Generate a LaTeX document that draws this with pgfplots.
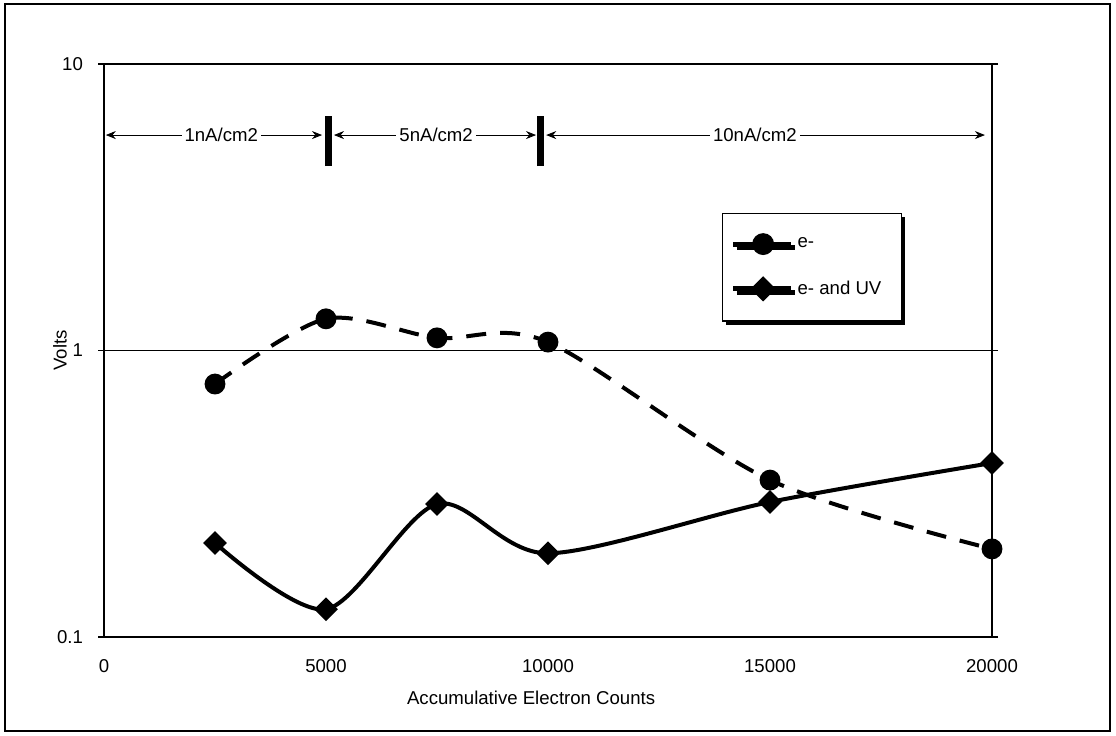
\documentclass[border=0pt]{standalone}
\usepackage{pgfplots}
\pgfplotsset{compat=1.18}
\usepackage{fontspec}
\setmainfont{Liberation Sans}
\usetikzlibrary{arrows.meta,shadows}

\begin{document}
\begin{tikzpicture}[font=\fontsize{9.3}{11}\selectfont]
\begin{axis}[
  name=ax,
  scale only axis,
  width=444pt, height=286.5pt,
  xmin=0, xmax=20000,
  ymode=log, ymin=0.1, ymax=10,
  scaled x ticks=false,
  xtick={0,5000,10000,15000,20000},
  xticklabels={0,5000,10000,15000,20000},
  ytick={0.1,1,10},
  yticklabels={0.1,1,10},
  yminorticks=false,
  ymajorgrids,
  major grid style={line width=0.5pt, black},
  axis line style={line width=0.6pt},
  x tick style={draw=none},
  y tick style={line width=0.6pt, black},
  tick align=outside, major tick length=3pt,
  xticklabel style={anchor=center, yshift=-11.5pt},
  yticklabel style={anchor=east, xshift=-4pt},
  xlabel={Accumulative Electron Counts},
  ylabel={Volts},
  xlabel style={at={(axis description cs:0.481,-0.1065)}, anchor=center},
  ylabel style={at={(axis description cs:-0.0495,0.5)}, anchor=center},
  legend style={at={(rel axis cs:0.696,0.74)}, anchor=north west,
    draw=black, line width=0.6pt, fill=white,
    drop shadow={shadow xshift=1.8pt, shadow yshift=-1.8pt, fill=black, opacity=1},
    inner xsep=4pt, inner ysep=10pt, row sep=11pt,
    font=\fontsize{9.3}{11}\selectfont},
  legend cell align=left,
  legend image code/.code={\draw[#1,solid,mark repeat=2,mark phase=2]
    plot coordinates {(0pt,0pt) (15pt,0pt) (29pt,0pt)};},
]

\addlegendimage{line width=2.5pt, mark=*, mark size=4.2pt}
\addlegendentry{\makebox[46pt][l]{e-}}
\addlegendimage{line width=2.5pt, mark=square*, mark size=3.2pt, mark options={rotate=45}}
\addlegendentry{\makebox[46pt][l]{e- and UV}}

% e-
\addplot[forget plot, black, line width=2pt, smooth, dash pattern=on 10pt off 7pt,
  mark=*, mark size=4.2pt, mark options={solid}] coordinates {
  (2500,0.764) (5000,1.29) (7500,1.107) (10000,1.07) (15000,0.353) (20000,0.203)
};

% e- and UV
\addplot[forget plot, black, line width=2pt, smooth,
  mark=square*, mark size=3.2pt, mark options={rotate=45}] coordinates {
  (2500,0.213) (5000,0.125) (7500,0.291) (10000,0.196) (15000,0.296) (20000,0.405)
};

% current density annotations
\draw[line width=0.4pt, {Stealth[length=5pt,width=4pt]}-{Stealth[length=5pt,width=4pt]}]
  (axis cs:40,5.65) -- (axis cs:4910,5.65);
\draw[line width=0.4pt, {Stealth[length=5pt,width=4pt]}-{Stealth[length=5pt,width=4pt]}]
  (axis cs:5180,5.65) -- (axis cs:9730,5.65);
\draw[line width=0.4pt, {Stealth[length=5pt,width=4pt]}-{Stealth[length=5pt,width=4pt]}]
  (axis cs:9960,5.65) -- (axis cs:19840,5.65);
\node[fill=white, inner sep=1.5pt] at (axis cs:2640,5.65) {1nA/cm2};
\node[fill=white, inner sep=1.5pt] at (axis cs:7480,5.65) {5nA/cm2};
\node[fill=white, inner sep=1.5pt] at (axis cs:14660,5.65) {10nA/cm2};
\draw[line width=3.5pt] (axis cs:5045,4.4) -- (axis cs:5045,6.6);
\draw[line width=3.5pt] (axis cs:9840,4.4) -- (axis cs:9840,6.6);
\end{axis}

\draw[line width=1pt] ([shift={(-49.5pt,-47pt)}]ax.south west)
  rectangle ([shift={(59pt,30pt)}]ax.north east);
\path ([shift={(-52pt,-49pt)}]ax.south west)
  rectangle ([shift={(62pt,32pt)}]ax.north east);
\end{tikzpicture}
\end{document}
